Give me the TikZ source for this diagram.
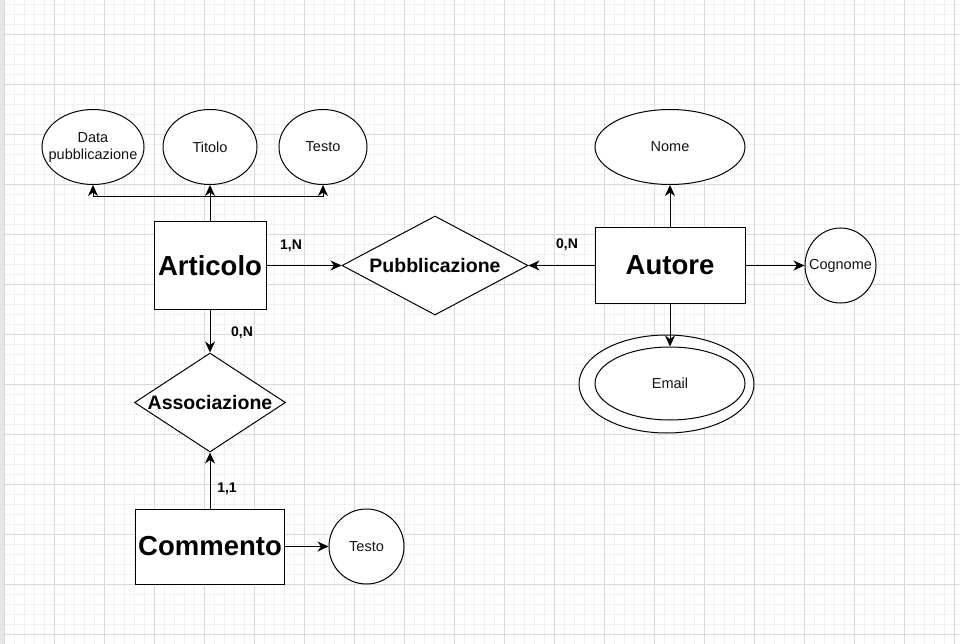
\documentclass[tikz,border=0pt]{standalone}
\usepackage{fontspec}
\setmainfont{Liberation Sans}
\usetikzlibrary{shapes.geometric,arrows.meta}
\definecolor{gridminor}{HTML}{F1F1F1}
\definecolor{gridmajor}{HTML}{D9D9D9}
\definecolor{edgestrip}{HTML}{E6E6E6}
\begin{document}
\begin{tikzpicture}[x=1pt,y=-1pt,
  ent/.style={draw,rectangle,line width=1pt,fill=white,inner sep=0pt,font=\fontsize{27.5}{30}\selectfont\bfseries},
  attr/.style={draw,ellipse,line width=1pt,fill=white,inner sep=0pt,font=\fontsize{14.5}{18}\selectfont,text=black!92},
  rel/.style={draw,diamond,line width=1pt,fill=white,inner sep=0pt,font=\fontsize{19.5}{22}\selectfont\bfseries},
  arr/.style={line width=1pt,-{Stealth[length=11pt,width=10pt,inset=3.5pt]}},
  card/.style={inner sep=0pt,font=\fontsize{14}{16}\selectfont\bfseries}]
\useasboundingbox (0,0) rectangle (960,644);
\fill[white] (0,0) rectangle (960,644);
% grid
\foreach \x in {4,14,...,954} \draw[gridminor,line width=0.8pt] (\x,0) -- (\x,644);
\foreach \y in {4,14,...,644} \draw[gridminor,line width=0.8pt] (4,\y) -- (960,\y);
\foreach \x in {4,54,...,954} \draw[gridmajor,line width=0.8pt] (\x,0) -- (\x,644);
\foreach \y in {34,84,...,634} \draw[gridmajor,line width=0.8pt] (4,\y) -- (960,\y);
\fill[edgestrip] (0,0) rectangle (3.5,644);

% entities
\node[ent,minimum width=112,minimum height=87] (art) at (210,265.5) {Articolo};
\node[ent,minimum width=150,minimum height=75] (aut) at (670,265.5) {Autore};
\node[ent,minimum width=149,minimum height=75] (com) at (210,546.5) {Commento};

% relationships
\node[rel,minimum width=186,minimum height=99] (pub) at (435,265.5) {\makebox[0pt]{Pubblicazione}};
\node[rel,minimum width=151,minimum height=99] (ass) at (210,402.5) {\makebox[0pt]{Associazione}};

% attributes
\node[attr,minimum width=102,minimum height=75] (data) at (93,147) {\makebox[0pt]{\begin{tabular}{@{}c@{}}Data\\[-1pt]pubblicazione\end{tabular}}};
\node[attr,minimum width=94,minimum height=75] (tit) at (210,147) {\makebox[0pt]{Titolo}};
\node[attr,minimum width=88,minimum height=75] (tes1) at (323,147) {\makebox[0pt]{Testo}};
\node[attr,minimum width=150,minimum height=75] (nome) at (670,147) {\makebox[0pt]{Nome}};
\node[attr,minimum width=71,minimum height=75] (cog) at (840.5,265.5) {\makebox[0pt]{Cognome}};
\node[attr,minimum width=75,minimum height=75] (tes2) at (366.5,546.5) {\makebox[0pt]{Testo}};
\node[attr,minimum width=175,minimum height=98] (emailo) at (666.5,384) {};
\node[attr,minimum width=150,minimum height=73] (email) at (670,383.5) {\makebox[0pt]{Email}};

% connectors
\path (art.north) ++(0,-25) coordinate (j);
\draw[arr] (art.north) -- (tit.south);
\draw[arr] (j) -| (data.south);
\draw[arr] (j) -| (tes1.south);
\draw[arr] (art.east) -- (pub.west);
\draw[arr] (aut.west) -- (pub.east);
\draw[arr] (aut.north) -- (nome.south);
\draw[arr] (aut.east) -- (cog.west);
\draw[arr] (aut.south) -- (email.north);
\draw[arr] (art.south) -- (ass.north);
\draw[arr] (com.north) -- (ass.south);
\draw[arr] (com.east) -- (tes2.west);

% cardinalities
\node[card] (c1) at (291,246) {1,N};
\node[card] (c2) at (567,245) {0,N};
\node[card] (c3) at (242,333) {0,N};
\node[card] (c4) at (227,489) {1,1};
\end{tikzpicture}
\end{document}
